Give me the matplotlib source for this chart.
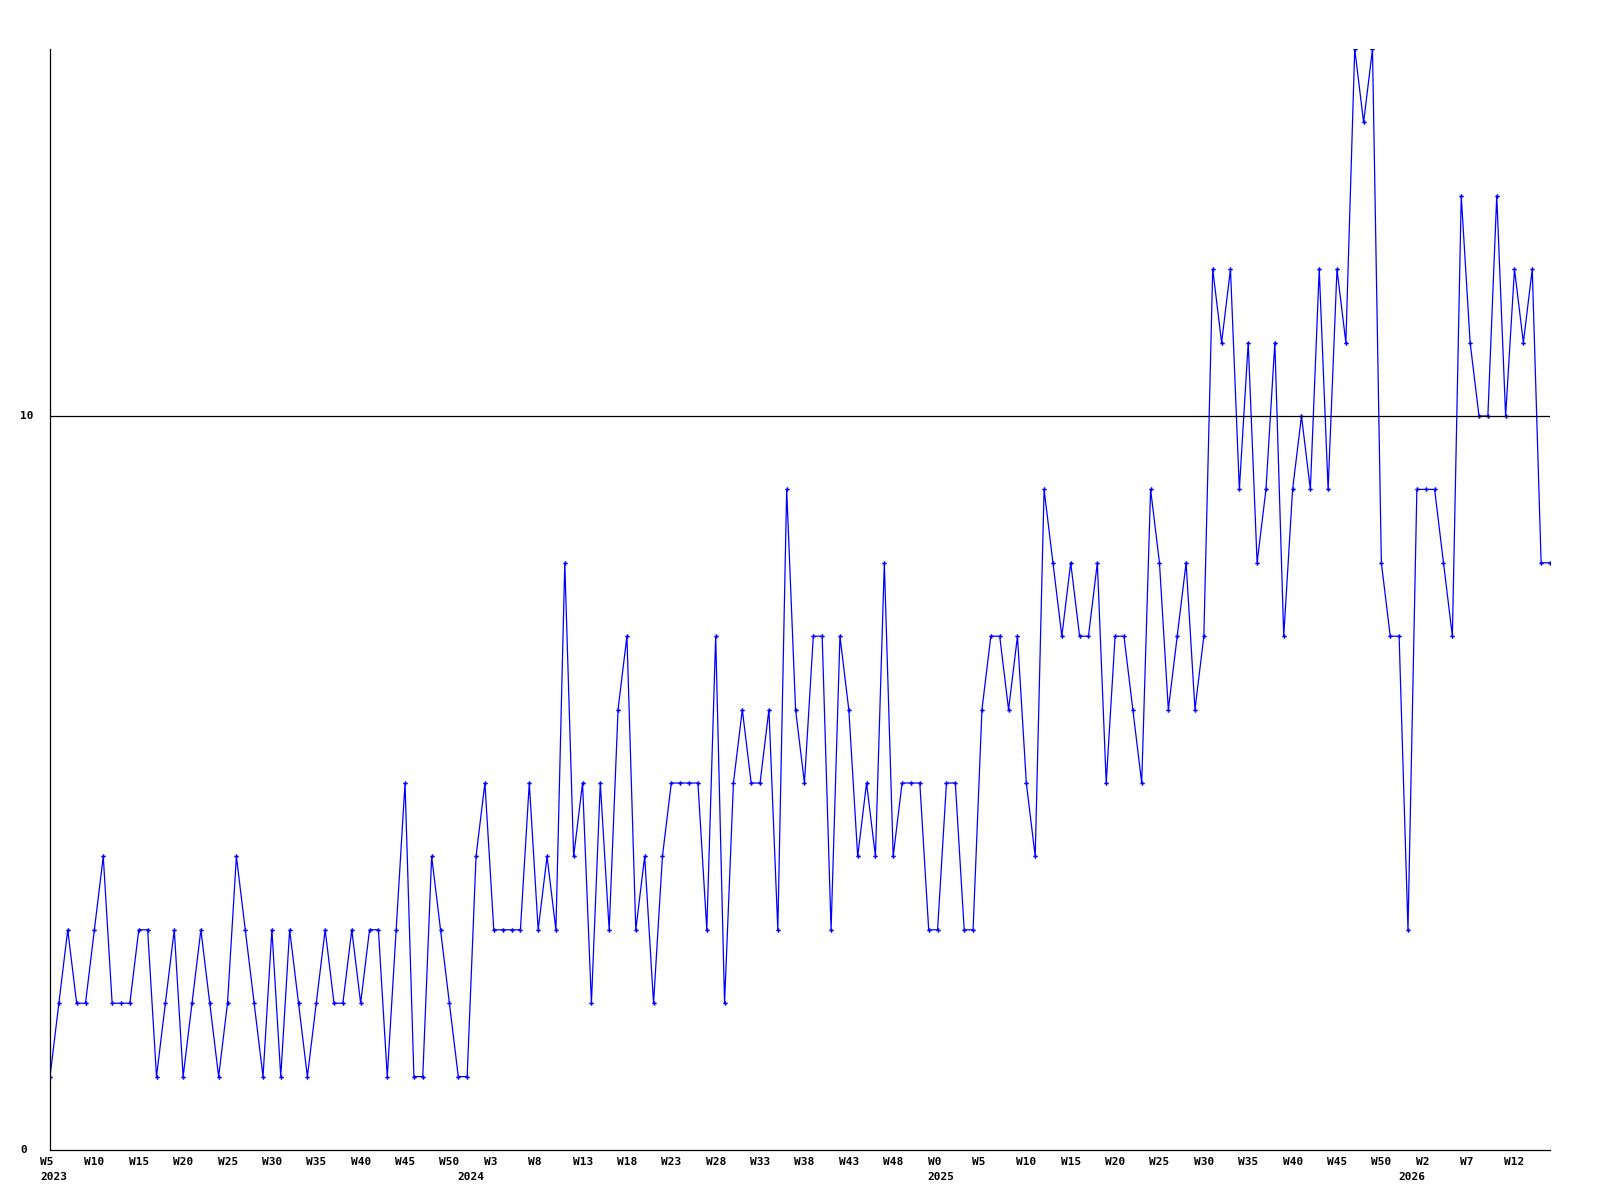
import matplotlib
matplotlib.use('Agg')
from matplotlib import pyplot as plt
from matplotlib import transforms

# weekly counts, 2023 W5 .. 2026 W16
values = [1, 2, 3, 2, 2, 3, 4, 2, 2, 2,
          3, 3, 1, 2, 3, 1, 2, 3, 2, 1,
          2, 4, 3, 2, 1, 3, 1, 3, 2, 1,
          2, 3, 2, 2, 3, 2, 3, 3, 1, 3,
          5, 1, 1, 4, 3, 2, 1, 1, 4, 5,
          3, 3, 3, 3, 5, 3, 4, 3, 8, 4,
          5, 2, 5, 3, 6, 7, 3, 4, 2, 4,
          5, 5, 5, 5, 3, 7, 2, 5, 6, 5,
          5, 6, 3, 9, 6, 5, 7, 7, 3, 7,
          6, 4, 5, 4, 8, 4, 5, 5, 5, 3,
          3, 5, 5, 3, 3, 6, 7, 7, 6, 7,
          5, 4, 9, 8, 7, 8, 7, 7, 8, 5,
          7, 7, 6, 5, 9, 8, 6, 7, 8, 6,
          7, 12, 11, 12, 9, 11, 8, 9, 11, 7,
          9, 10, 9, 12, 9, 12, 11, 15, 14, 15,
          8, 7, 7, 3, 9, 9, 9, 8, 7, 13,
          11, 10, 10, 13, 10, 12, 11, 12, 8, 8]

week_ticks = ['W5', 'W10', 'W15', 'W20', 'W25', 'W30', 'W35', 'W40', 'W45', 'W50',
              'W3', 'W8', 'W13', 'W18', 'W23', 'W28', 'W33', 'W38', 'W43', 'W48',
              'W0', 'W5', 'W10', 'W15', 'W20', 'W25', 'W30', 'W35', 'W40', 'W45',
              'W50', 'W2', 'W7', 'W12']
years = ['2023', '2024', '2025', '2026']
year_pos = [0, 47, 100, 153]   # point index where each year label sits
y_ticks = [0, 10]

font = dict(family='DejaVu Sans Mono', weight='bold', size=8)

fig = plt.figure(figsize=(16, 12), dpi=100)
ax = fig.add_axes([50 / 1600, 1 - 1150 / 1200, 1500 / 1600, 1101 / 1200])

x = list(range(len(values)))
ax.plot(x, values, color='#0000ff', lw=0.9, marker='P', ms=3.2, mew=0)
ax.axhline(10, color='black', lw=0.9)

ax.set_xlim(0, len(values) - 1)
ax.set_ylim(0, 15)
for s in ['top', 'right']:
    ax.spines[s].set_visible(False)
for s in ['left', 'bottom']:
    ax.spines[s].set_color('black')
    ax.spines[s].set_linewidth(0.9)
ax.set_xticks([])
ax.set_yticks([])

# labels: left aligned 10px left of the tick, like the original renderer
base = transforms.blended_transform_factory(ax.transData, ax.transAxes)
wk_tr = base + transforms.ScaledTranslation(-10 / 100, -12 / 100, fig.dpi_scale_trans)
yr_tr = base + transforms.ScaledTranslation(-10 / 100, -27 / 100, fig.dpi_scale_trans)
for i, lbl in enumerate(week_ticks):
    ax.text(i * 5, 0, lbl, transform=wk_tr, ha='left', va='center', **font)
for p, lbl in zip(year_pos, years):
    ax.text(p, 0, lbl, transform=yr_tr, ha='left', va='center', **font)

ytr = transforms.blended_transform_factory(fig.transFigure, ax.transData)
for v in y_ticks:
    ax.text(20 / 1600, v, str(v), transform=ytr, ha='left', va='center', **font)

fig.savefig('out.png', dpi=100, facecolor='white')
